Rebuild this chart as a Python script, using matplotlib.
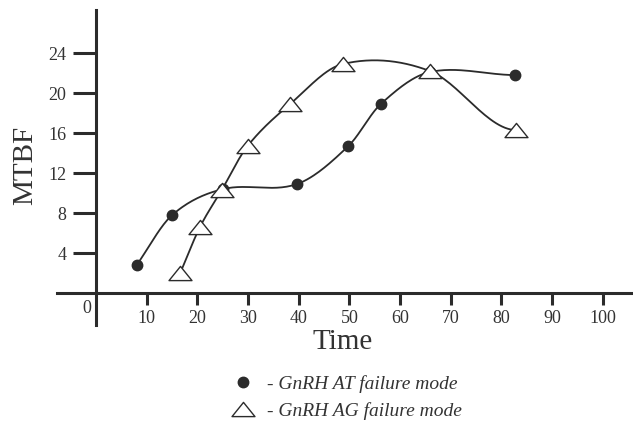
import numpy as np
import matplotlib
matplotlib.use("Agg")
import matplotlib.pyplot as plt
from matplotlib.lines import Line2D
from matplotlib.path import Path

# data
at_time = [8, 15, 25, 39.6, 49.8, 56.2, 65.9, 82.7]
at_mtbf = [2.8, 7.8, 10.4, 10.9, 14.7, 18.9, 22.1, 21.8]
ag_time = [16.6, 20.5, 24.8, 29.9, 38.3, 48.7, 65.9, 83.0]
ag_mtbf = [2.0, 6.6, 10.3, 14.7, 18.9, 22.9, 22.2, 16.3]
x_ticks = [10, 20, 30, 40, 50, 60, 70, 80, 90, 100]
y_ticks = [4, 8, 12, 16, 20, 24]
labels = ["- GnRH AT failure mode", "- GnRH AG failure mode"]

INK = "#2b2b2b"
plt.rcParams["font.family"] = ["Liberation Serif", "DejaVu Serif"]


def smooth(x, y, n=30):
    """Catmull-Rom style Hermite curve through the points."""
    x = np.asarray(x, float)
    y = np.asarray(y, float)
    m = np.empty_like(y)
    m[1:-1] = (y[2:] - y[:-2]) / (x[2:] - x[:-2])
    m[0] = (y[1] - y[0]) / (x[1] - x[0])
    m[-1] = 0.0  # curves level off at the last point
    xs, ys = [], []
    for i in range(len(x) - 1):
        h = x[i + 1] - x[i]
        t = np.linspace(0, 1, n, endpoint=False)
        h00 = 2 * t**3 - 3 * t**2 + 1
        h10 = t**3 - 2 * t**2 + t
        h01 = -2 * t**3 + 3 * t**2
        h11 = t**3 - t**2
        xs.append(x[i] + t * h)
        ys.append(h00 * y[i] + h10 * h * m[i] + h01 * y[i + 1] + h11 * h * m[i + 1])
    xs.append([x[-1]])
    ys.append([y[-1]])
    return np.concatenate(xs), np.concatenate(ys)


tri = Path([(0, 0.62), (-1, -0.62), (1, -0.62), (0, 0.62)],
           [Path.MOVETO, Path.LINETO, Path.LINETO, Path.CLOSEPOLY])

fig = plt.figure(figsize=(6.33, 4.21), dpi=100)
ax = fig.add_axes([0.0893, 0.2273, 0.9107, 0.749])
ax.set_xlim(-7.8, 106)
ax.set_ylim(-3.2, 28.3)

for s in ["top", "right"]:
    ax.spines[s].set_visible(False)
for s in ["left", "bottom"]:
    ax.spines[s].set_position(("data", 0))
    ax.spines[s].set_linewidth(2.2)
    ax.spines[s].set_color(INK)

ax.set_xticks(x_ticks)
ax.set_yticks(y_ticks)
ax.tick_params(axis="x", direction="out", length=8.6, width=2.2, color=INK,
               pad=3.5, labelsize=13, labelcolor="#333333")
ax.tick_params(axis="y", direction="out", length=16.5, width=2.2, color=INK,
               pad=5, labelsize=13, labelcolor="#333333")
ax.text(-1.8, -1.5, "0", ha="center", va="center", fontsize=13, color="#333333")

sx, sy = smooth(at_time, at_mtbf)
ax.plot(sx, sy, color=INK, lw=1.3, zorder=2)
ax.plot(at_time, at_mtbf, ls="none", marker="o", ms=7.5, color=INK, zorder=3)

sx, sy = smooth(ag_time, ag_mtbf)
ax.plot(sx, sy, color=INK, lw=1.3, zorder=2)
ax.plot(ag_time, ag_mtbf, ls="none", marker=tri, ms=16.5, mfc="white",
        mec=INK, mew=1.0, zorder=4)

fig.text(343 / 633, 1 - 342 / 421, "Time", ha="center", va="center",
         fontsize=21, color="#333333")
fig.text(25 / 633, 1 - 165 / 421, "MTBF", ha="center", va="center",
         rotation=90, fontsize=21, color="#333333")

handles = [
    Line2D([], [], ls="none", marker="o", ms=7.5, color=INK),
    Line2D([], [], ls="none", marker=tri, ms=16.5, mfc="white", mec=INK, mew=1.0),
]
fig.legend(handles, labels, loc="upper left", bbox_to_anchor=(222 / 633, 1 - 365 / 421),
           frameon=False, handlelength=1.2, handletextpad=0.6, labelspacing=0.5,
           borderpad=0, prop={"style": "italic", "size": 14}, labelcolor="#333333")

fig.savefig("out.png", dpi=100)
